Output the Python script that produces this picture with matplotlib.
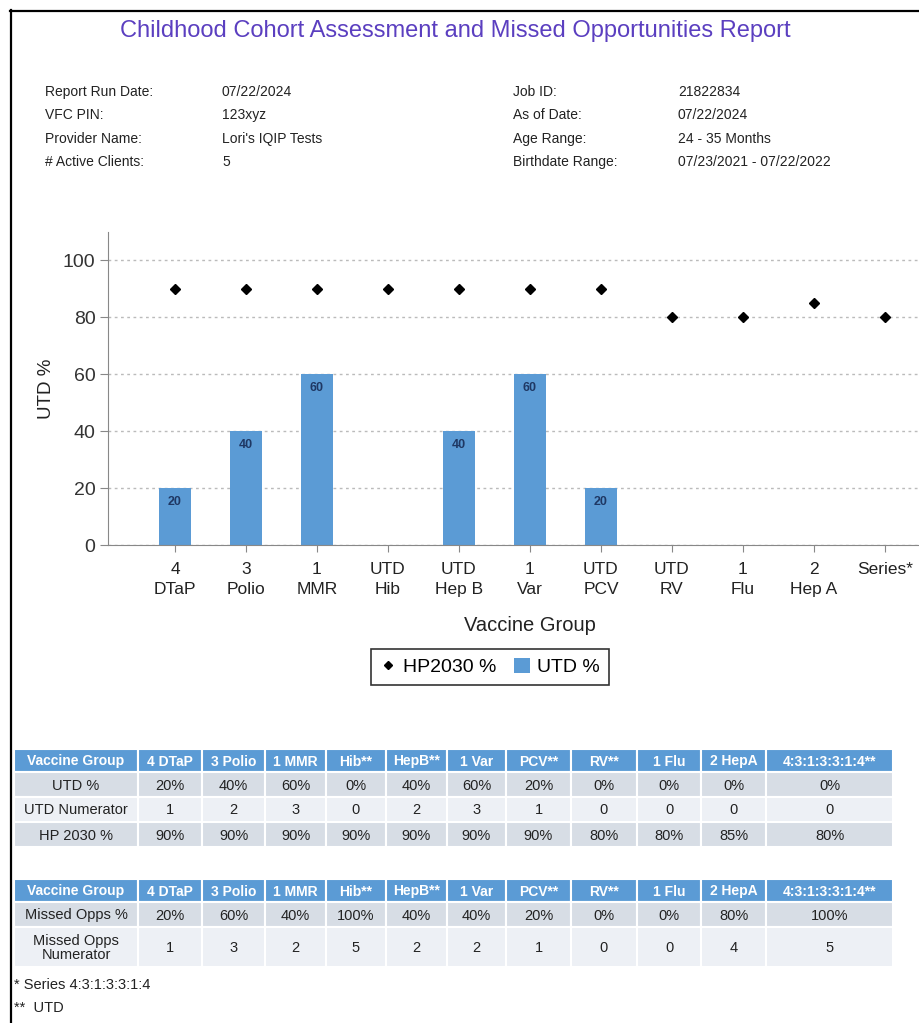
import matplotlib
matplotlib.use("Agg")
import matplotlib.pyplot as plt
from matplotlib.lines import Line2D
from matplotlib.patches import Patch, Rectangle

plt.rcParams['font.family'] = ['Liberation Sans', 'DejaVu Sans']

# ---- data ----
groups = ["4\nDTaP", "3\nPolio", "1\nMMR", "UTD\nHib", "UTD\nHep B", "1\nVar",
          "UTD\nPCV", "UTD\nRV", "1\nFlu", "2\nHep A", "Series*"]
utd_pct = [20, 40, 60, 0, 40, 60, 20, 0, 0, 0, 0]
hp2030_pct = [90, 90, 90, 90, 90, 90, 90, 80, 80, 85, 80]

report_info_left = [("Report Run Date:", "07/22/2024"), ("VFC PIN:", "123xyz"),
                    ("Provider Name:", "Lori's IQIP Tests"), ("# Active Clients:", "5")]
report_info_right = [("Job ID:", "21822834"), ("As of Date:", "07/22/2024"),
                     ("Age Range:", "24 - 35 Months"),
                     ("Birthdate Range:", "07/23/2021 - 07/22/2022")]

table_cols = ["Vaccine Group", "4 DTaP", "3 Polio", "1 MMR", "Hib**", "HepB**", "1 Var",
              "PCV**", "RV**", "1 Flu", "2 HepA", "4:3:1:3:3:1:4**"]
utd_numerator = [1, 2, 3, 0, 2, 3, 1, 0, 0, 0, 0]
missed_pct = [20, 60, 40, 100, 40, 40, 20, 0, 0, 80, 100]
missed_numerator = [1, 3, 2, 5, 2, 2, 1, 0, 0, 4, 5]

BLUE = "#5B9BD5"
ROW_DARK = "#D7DDE5"
ROW_LIGHT = "#EDF0F5"
TXT = "#222222"

W, H = 919, 1023
fig = plt.figure(figsize=(W / 100, H / 100), dpi=100)
fig.patch.set_facecolor("white")

# page overlay in pixel coordinates (text, tables, frame)
bg = fig.add_axes([0, 0, 1, 1])
bg.set_xlim(0, W)
bg.set_ylim(H, 0)
bg.axis("off")

bg.plot([11, 11], [10, H], color="black", lw=1.6)
bg.plot([10, W], [11, 11], color="black", lw=1.6)

bg.text(455, 31, "Childhood Cohort Assessment and Missed Opportunities Report",
        ha="center", va="center", fontsize=17, color="#5B3FC0")

for i, (lab, val) in enumerate(report_info_left):
    y = 92 + i * 23.3
    bg.text(45, y, lab, va="center", fontsize=10, color=TXT)
    bg.text(222, y, val, va="center", fontsize=10, color=TXT)
for i, (lab, val) in enumerate(report_info_right):
    y = 92 + i * 23.3
    bg.text(513, y, lab, va="center", fontsize=10, color=TXT)
    bg.text(678, y, val, va="center", fontsize=10, color=TXT)

# ---- chart ----
ax = fig.add_axes([108 / W, 1 - 545 / H, (W - 108) / W, (545 - 232) / H])
x = list(range(len(groups)))
bars = ax.bar(x, utd_pct, width=0.45, color=BLUE, zorder=2, label="UTD %")
ax.bar_label(bars, labels=[str(v) if v else "" for v in utd_pct], padding=-14,
             fontsize=9, color="#1F3864", fontweight="bold")
ax.plot(x, hp2030_pct, linestyle="none", marker="D", markersize=5.5, color="black",
        zorder=3, label="HP2030 %")

ax.set_xlim(-0.944, 10.48)
ax.set_ylim(0, 110)
ax.set_yticks([0, 20, 40, 60, 80, 100])
ax.set_xticks(x)
ax.set_xticklabels(groups, fontsize=12.5, linespacing=1.45, color=TXT)
ax.tick_params(axis="y", labelsize=14, labelcolor="#333333", color="#888888",
               length=6, pad=3)
ax.tick_params(axis="x", color="#888888", length=5, pad=7)
ax.grid(axis="y", color="#BBBBBB", linestyle=(0, (2, 2.5)), lw=1, zorder=0)
for s in ["top", "right"]:
    ax.spines[s].set_visible(False)
for s in ["left", "bottom"]:
    ax.spines[s].set_color("#888888")
ax.set_ylabel("UTD %", fontsize=13.5, color=TXT)
ax.yaxis.set_label_coords(-0.065, 0.5)
ax.set_xlabel("Vaccine Group", fontsize=14.5, color=TXT)
ax.xaxis.set_label_coords(0.52, -0.228)

handles = [Line2D([], [], linestyle="none", marker="D", markersize=4.5, color="black"),
           Patch(facecolor=BLUE)]
leg = fig.legend(handles, ["HP2030 %", "UTD %"], loc="center", ncol=2,
                 bbox_to_anchor=(490 / W, 1 - 667 / H), fontsize=14, frameon=True,
                 fancybox=False, edgecolor="black", handlelength=0.8, handleheight=0.8,
                 handletextpad=0.4, columnspacing=0.9, borderpad=0.45)
leg.get_frame().set_linewidth(1.2)

# ---- tables ----
col_edges = [14, 138, 202, 265, 326, 386, 447, 506, 571, 637, 701, 766, 893]


def draw_table(top, row_heights, rows):
    y = top
    for r, cells in enumerate(rows):
        h = row_heights[r]
        if r == 0:
            fc, tc, fw, fs = BLUE, "white", "bold", 10
        else:
            fc = ROW_DARK if r % 2 == 1 else ROW_LIGHT
            tc, fw, fs = TXT, "normal", 10.5
        for c, txt in enumerate(cells):
            x0, x1 = col_edges[c], col_edges[c + 1]
            bg.add_patch(Rectangle((x0, y), x1 - x0, h, facecolor=fc,
                                   edgecolor="white", lw=1.5))
            bg.text((x0 + x1) / 2, y + h / 2 + 1, txt, ha="center", va="center",
                    fontsize=fs, color=tc, fontweight=fw, linespacing=0.95)
        y += h


draw_table(749, [23, 25, 25, 25], [
    table_cols,
    ["UTD %"] + [f"{v}%" for v in utd_pct],
    ["UTD Numerator"] + [str(v) for v in utd_numerator],
    ["HP 2030 %"] + [f"{v}%" for v in hp2030_pct],
])
draw_table(879, [23, 25, 40], [
    table_cols,
    ["Missed Opps %"] + [f"{v}%" for v in missed_pct],
    ["Missed Opps\nNumerator"] + [str(v) for v in missed_numerator],
])

bg.text(14, 985, "* Series 4:3:1:3:3:1:4", va="center", fontsize=10.5, color=TXT)
bg.text(14, 1008, "**  UTD", va="center", fontsize=10.5, color=TXT)

fig.savefig("out.png", dpi=100)
